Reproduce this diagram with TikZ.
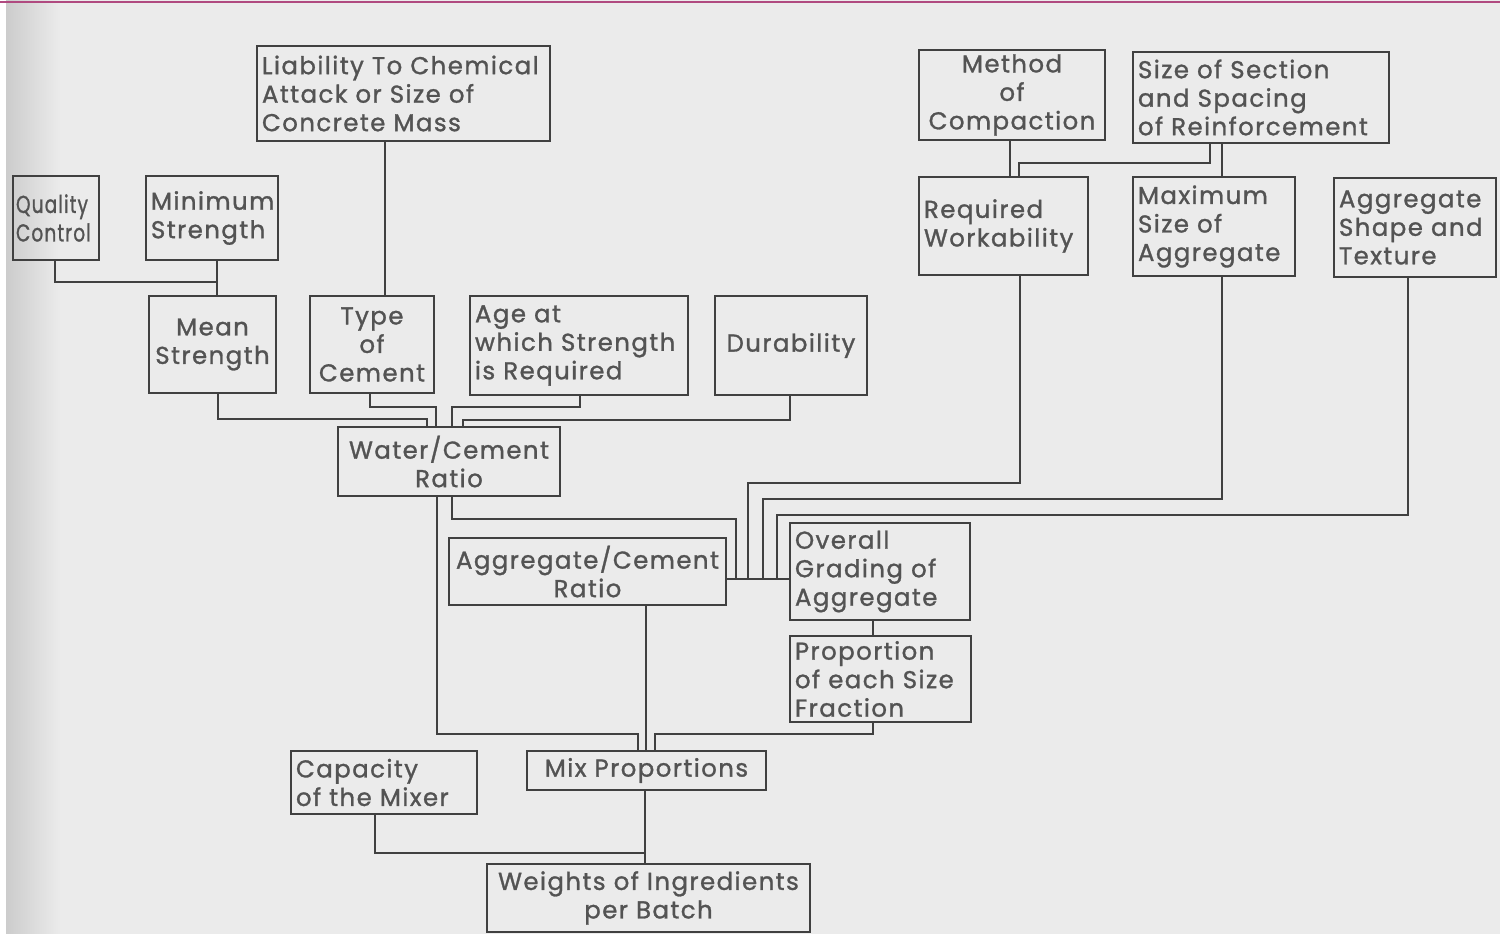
\documentclass[tikz,border=0pt]{standalone}
\usepackage{fontspec}
\setmainfont{Poppins}[LetterSpace=6, FakeBold=1.2]
\definecolor{ink}{HTML}{404040}
\definecolor{paper}{HTML}{EBEBEB}
\definecolor{topline}{HTML}{B04A80}
\begin{document}
\begin{tikzpicture}[x=1pt,y=-1pt,
  box/.style={draw=ink, line width=2.8pt, inner xsep=6pt, inner ysep=0pt, text=ink!90,
    font=\fontsize{24.4}{28.5}\selectfont},
  wire/.style={draw=ink, line width=2.4pt, line join=miter}]
\useasboundingbox (0,0) rectangle (1500,934);
\fill[white] (0,0) rectangle (1500,934);
\fill[paper] (6,0) rectangle (1500,934);
\shade[left color=black!20, right color=paper] (6,0) rectangle (60,934);
\draw[topline, line width=2pt] (0,2) -- (1500,2);

% boxes
\node[box, text width=283pt, inner xsep=5pt, minimum height=95pt, align=left] (liab) at (403.5,93.5) {Liability To Chemical\\Attack or Size of\\Concrete Mass};
\node[box, text width=80pt, inner xsep=3pt, minimum height=84pt, align=left] (qc) at (56,218) {\scalebox{0.76}[1]{Quality}\\\scalebox{0.76}[1]{Control}};
\node[box, text width=122pt, inner xsep=5pt, minimum height=84pt, align=left] (minstr) at (212,218) {Minimum\\Strength};
\node[box, text width=119pt, inner xsep=4pt, minimum height=97pt, align=center] (mean) at (212.5,344.5) {Mean\\Strength};
\node[box, text width=116pt, inner xsep=4pt, minimum height=97pt, align=center] (type) at (372,344.5) {Type\\of\\Cement};
\node[box, text width=208pt, inner xsep=5pt, minimum height=99pt, align=left] (age) at (579,345.5) {Age at\\which Strength\\is Required};
\node[box, text width=144pt, inner xsep=4pt, minimum height=99pt, align=center] (dur) at (791,345.5) {Durability};
\node[box, text width=214pt, inner xsep=4pt, minimum height=69pt, align=center] (wc) at (449,461.5) {Water/Cement\\Ratio};
\node[box, text width=271pt, inner xsep=3pt, minimum height=67pt, align=center] (ac) at (587.5,571.5) {Aggregate/Cement\\Ratio};
\node[box, text width=170pt, inner xsep=5pt, minimum height=97pt, align=left] (og) at (880,571.5) {Overall\\Grading of\\Aggregate};
\node[box, text width=171pt, inner xsep=5pt, minimum height=86pt, align=left] (prop) at (880.5,679) {Proportion\\of each Size\\Fraction};
\node[box, text width=178pt, inner xsep=4pt, minimum height=90pt, align=center] (meth) at (1012,95) {Method\\of\\Compaction};
\node[box, text width=246pt, inner xsep=5pt, minimum height=91pt, align=left] (sos) at (1261,97.5) {Size of Section\\and Spacing\\of Reinforcement};
\node[box, text width=159pt, inner xsep=5pt, minimum height=98pt, align=left] (rw) at (1003.5,226) {Required\\Workability};
\node[box, text width=152pt, inner xsep=5pt, minimum height=99pt, align=left] (ms) at (1214,226.5) {Maximum\\Size of\\Aggregate};
\node[box, text width=152pt, inner xsep=5pt, minimum height=99pt, align=left] (as) at (1415,227.5) {Aggregate\\Shape and\\Texture};
\node[box, text width=176pt, inner xsep=5pt, minimum height=63pt, align=left] (cap) at (384,782.5) {Capacity\\of the Mixer};
\node[box, text width=231pt, inner xsep=4pt, minimum height=39pt, align=center] (mix) at (646.5,770.5) {Mix Proportions};
\node[box, text width=315pt, inner xsep=4pt, minimum height=68pt, align=center] (wts) at (648.5,898) {Weights of Ingredients\\per Batch};

% junction points
\coordinate (j1) at (217,282);
\coordinate (jg) at (736,579);

% connectors
\draw[wire] (55,0 |- qc.south) |- (j1);
\draw[wire] (217,0 |- minstr.south) -- (217,0 |- mean.north);
\draw[wire] (385,0 |- liab.south) -- (385,0 |- type.north);
\draw[wire] (218,0 |- mean.south) -- (218,419) -- (427,419) -- (427,0 |- wc.north);
\draw[wire] (370,0 |- type.south) -- (370,407) -- (436,407) -- (436,0 |- wc.north);
\draw[wire] (580,0 |- age.south) -- (580,407) -- (452,407) -- (452,0 |- wc.north);
\draw[wire] (790,0 |- dur.south) -- (790,420) -- (463,420) -- (463,0 |- wc.north);
\draw[wire] (437,0 |- wc.south) -- (437,734) -- (638,734) -- (638,0 |- mix.north);
\draw[wire] (452,0 |- wc.south) -- (452,519) -- (736,519) -- (jg);
\draw[wire] (1020,0 |- rw.south) -- (1020,483) -- (748,483) -- (748,579);
\draw[wire] (1222,0 |- ms.south) -- (1222,499) -- (763,499) -- (763,579);
\draw[wire] (1408,0 |- as.south) -- (1408,515) -- (777,515) -- (777,579);
\draw[wire] (ac.east |- jg) -- (og.west |- jg);
\draw[wire] (873,0 |- og.south) -- (873,0 |- prop.north);
\draw[wire] (873,0 |- prop.south) -- (873,734) -- (655,734) -- (655,0 |- mix.north);
\draw[wire] (646,0 |- ac.south) -- (646,0 |- mix.north);
\draw[wire] (375,0 |- cap.south) -- (375,853) -- (645,853);
\draw[wire] (645,0 |- mix.south) -- (645,0 |- wts.north);
\draw[wire] (1010,0 |- meth.south) -- (1010,0 |- rw.north);
\draw[wire] (1210,0 |- sos.south) -- (1210,163) -- (1019,163) -- (1019,0 |- rw.north);
\draw[wire] (1222,0 |- sos.south) -- (1222,0 |- ms.north);
\end{tikzpicture}
\end{document}
